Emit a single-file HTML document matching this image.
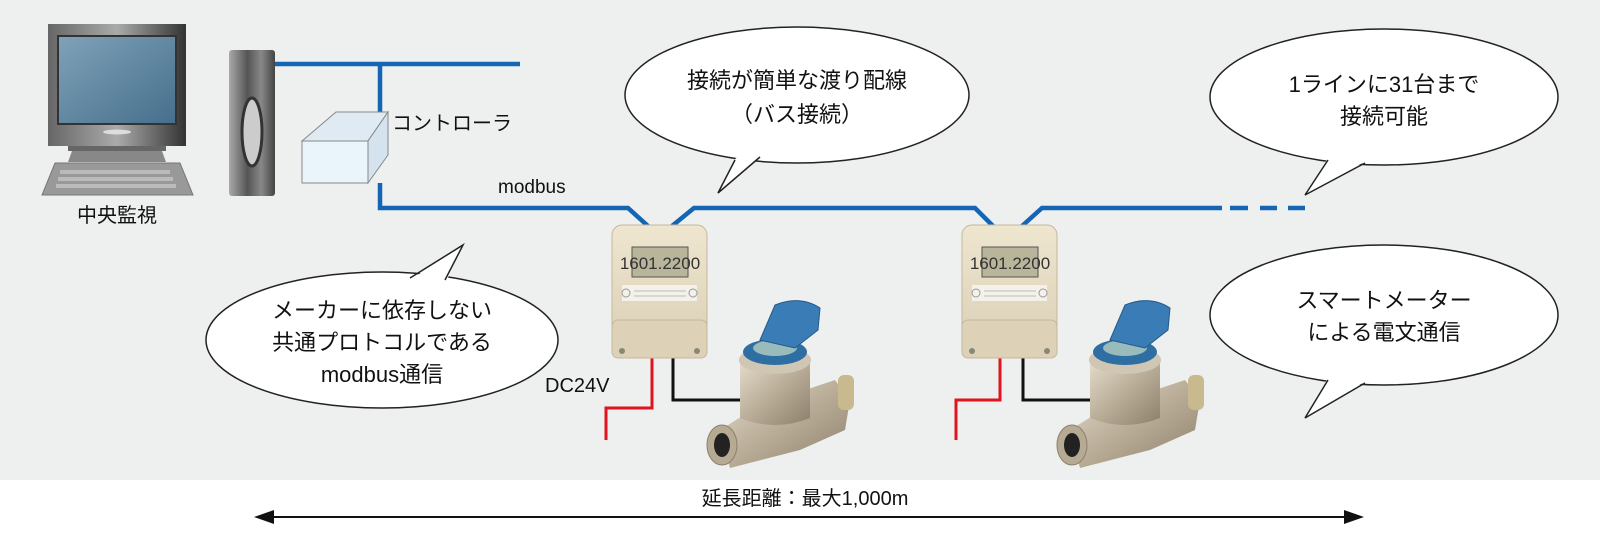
<!DOCTYPE html>
<html><head><meta charset="utf-8"><style>
html,body{margin:0;padding:0;width:1600px;height:544px;overflow:hidden;background:#fff}
svg{display:block}
text{font-family:"Liberation Sans","Noto Sans CJK JP",sans-serif;fill:#111}
</style></head><body>
<svg width="1600" height="544" viewBox="0 0 1600 544" xmlns="http://www.w3.org/2000/svg">
<defs>
<linearGradient id="scr" x1="0" y1="0" x2="1" y2="1"><stop offset="0" stop-color="#7fa2b8"/><stop offset="1" stop-color="#466f8c"/></linearGradient>
<linearGradient id="mon" x1="0" y1="0" x2="1" y2="0"><stop offset="0" stop-color="#666"/><stop offset=".5" stop-color="#aaa"/><stop offset="1" stop-color="#333"/></linearGradient>
<linearGradient id="twr" x1="0" y1="0" x2="1" y2="0"><stop offset="0" stop-color="#aaa"/><stop offset=".4" stop-color="#555"/><stop offset=".7" stop-color="#888"/><stop offset="1" stop-color="#444"/></linearGradient>
<linearGradient id="brass" x1="0" y1="0" x2="1" y2="1"><stop offset="0" stop-color="#e5dccb"/><stop offset=".5" stop-color="#b9ad98"/><stop offset="1" stop-color="#8c806c"/></linearGradient>
<linearGradient id="unit" x1="0" y1="0" x2="0" y2="1"><stop offset="0" stop-color="#efe6d0"/><stop offset="1" stop-color="#d9ceb4"/></linearGradient>
<g id="unitg">
 <rect x="0" y="0" width="95" height="133" rx="10" fill="url(#unit)" stroke="#c4b89c"/>
 <rect x="0" y="95" width="95" height="38" rx="6" fill="#ddd2b8" stroke="#c4b89c"/>
 <rect x="20" y="22" width="56" height="30" fill="#b8b59a" stroke="#555"/>
 <text x="48" y="44" font-size="17" text-anchor="middle" style="font-family:'Liberation Sans Narrow','Liberation Sans',sans-serif;fill:#333">1601.2200</text>
 <rect x="10" y="60" width="75" height="16" fill="#f4f1ea"/>
 <circle cx="14" cy="68" r="4" fill="none" stroke="#999"/><circle cx="81" cy="68" r="4" fill="none" stroke="#999"/>
 <line x1="22" y1="66" x2="74" y2="66" stroke="#bbb"/><line x1="22" y1="71" x2="74" y2="71" stroke="#bbb"/>
 <circle cx="10" cy="126" r="3" fill="#887"/><circle cx="85" cy="126" r="3" fill="#887"/>
</g>
<g id="meter">
 <path d="M20 130 L60 105 L135 80 L150 100 L145 130 L100 150 L30 168 Z" fill="url(#brass)"/>
 <ellipse cx="22" cy="145" rx="15" ry="20" fill="#b6aa93" stroke="#8c806c"/>
 <ellipse cx="22" cy="145" rx="8" ry="12" fill="#222"/>
 <rect x="138" y="75" width="16" height="35" rx="6" fill="#c8b98e"/>
 <path d="M40 60 L40 118 Q75 132 110 118 L110 60 Z" fill="url(#brass)"/>
 <ellipse cx="75" cy="60" rx="36" ry="14" fill="#cfc6b3"/>
 <ellipse cx="75" cy="52" rx="32" ry="13" fill="#2f6ea3"/>
 <ellipse cx="75" cy="48" rx="22" ry="8" fill="#9bb"/>
 <path d="M60 40 L75 5 Q100 -5 120 8 L118 30 L95 48 Z" fill="#3a7cb5" stroke="#245a8a"/>
</g>
</defs>
<rect x="0" y="0" width="1600" height="480" fill="#eeefef"/>

<!-- computer -->
<rect x="48" y="24" width="138" height="122" fill="url(#mon)"/>
<rect x="58" y="36" width="118" height="88" fill="url(#scr)" stroke="#333" stroke-width="2"/>
<ellipse cx="117" cy="132" rx="14" ry="2.5" fill="#ddd"/>
<rect x="68" y="146" width="98" height="5" fill="#666"/>
<path d="M72 151 H162 L166 162 H68 Z" fill="#888"/>
<path d="M55 163 H180 L193 195 H42 Z" fill="#999" stroke="#777"/>
<g fill="#bbb">
<rect x="60" y="170" width="110" height="4"/><rect x="58" y="177" width="115" height="4"/><rect x="56" y="184" width="120" height="4"/>
</g>
<rect x="229" y="50" width="46" height="146" rx="3" fill="url(#twr)"/>
<ellipse cx="252" cy="132" rx="10" ry="34" fill="#ccc" stroke="#333" stroke-width="3"/>
<text x="117" y="222" font-size="20" text-anchor="middle">中央監視</text>

<!-- blue lines -->
<g stroke="#1565b5" stroke-width="4.5" fill="none">
<path d="M275 64 H520"/>
<path d="M380 64 V112"/>
<path d="M380 183 V208 H628 L648 226"/>
<path d="M672 226 L694 208 H975 L993 226"/>
<path d="M1022 226 L1042 208 H1222"/>
<path d="M1230 208 H1248 M1260 208 H1277 M1288 208 H1305"/>
</g>
<!-- controller -->
<path d="M302 141 L336 112 H388 L368 141 Z" fill="#dfeaf2" stroke="#888"/>
<path d="M368 141 L388 112 V155 L368 183 Z" fill="#d5e3ee" stroke="#888"/>
<rect x="302" y="141" width="66" height="42" fill="#eaf4fb" stroke="#888"/>
<text x="392" y="130" font-size="20">コントローラ</text>
<text x="498" y="193" font-size="19">modbus</text>

<!-- wires -->
<g fill="none" stroke-width="3">
<path d="M652 358 V408 H606 V440" stroke="#e0141e"/>
<path d="M673 358 V400 H740" stroke="#111"/>
<path d="M1000 358 V400 H956 V440" stroke="#e0141e"/>
<path d="M1023 358 V400 H1090" stroke="#111"/>
</g>
<text x="545" y="392" font-size="20">DC24V</text>
<use href="#unitg" x="612" y="225"/>
<use href="#unitg" x="962" y="225"/>
<use href="#meter" x="700" y="300"/>
<use href="#meter" x="1050" y="300"/>

<!-- bubbles -->
<g fill="#fff" stroke="#222" stroke-width="1.5">
<ellipse cx="797" cy="95" rx="172" ry="68"/>
<ellipse cx="1384" cy="97" rx="174" ry="68"/>
<ellipse cx="382" cy="340" rx="176" ry="68"/>
<ellipse cx="1384" cy="315" rx="174" ry="70"/>
</g>
<g fill="#fff" stroke="none">
<path d="M736 158 L718 193 L762 156 Z"/>
<path d="M1328 158 L1305 195 L1366 161 Z"/>
<path d="M410 280 L463 245 L446 282 Z"/>
<path d="M1328 378 L1305 418 L1366 381 Z"/>
</g>
<g fill="none" stroke="#222" stroke-width="1.5">
<path d="M735 160 L718 193 L760 157"/>
<path d="M1328 160 L1305 195 L1365 163"/>
<path d="M410 278 L463 245 L445 280"/>
<path d="M1328 380 L1305 418 L1365 383"/>
</g>
<g font-size="22" text-anchor="middle">
<text x="797" y="88">接続が簡単な渡り配線</text>
<text x="797" y="122">（バス接続）</text>
<text x="1384" y="92">1ラインに31台まで</text>
<text x="1384" y="124">接続可能</text>
<text x="382" y="318">メーカーに依存しない</text>
<text x="382" y="350">共通プロトコルである</text>
<text x="382" y="382">modbus通信</text>
<text x="1384" y="308">スマートメーター</text>
<text x="1384" y="340">による電文通信</text>
</g>

<!-- bottom -->
<text x="805" y="505" font-size="20" text-anchor="middle">延長距離：最大1,000m</text>
<line x1="268" y1="517" x2="1350" y2="517" stroke="#111" stroke-width="2"/>
<path d="M254 517 L274 510 L274 524 Z" fill="#111"/>
<path d="M1364 517 L1344 510 L1344 524 Z" fill="#111"/>
</svg>
</body></html>
